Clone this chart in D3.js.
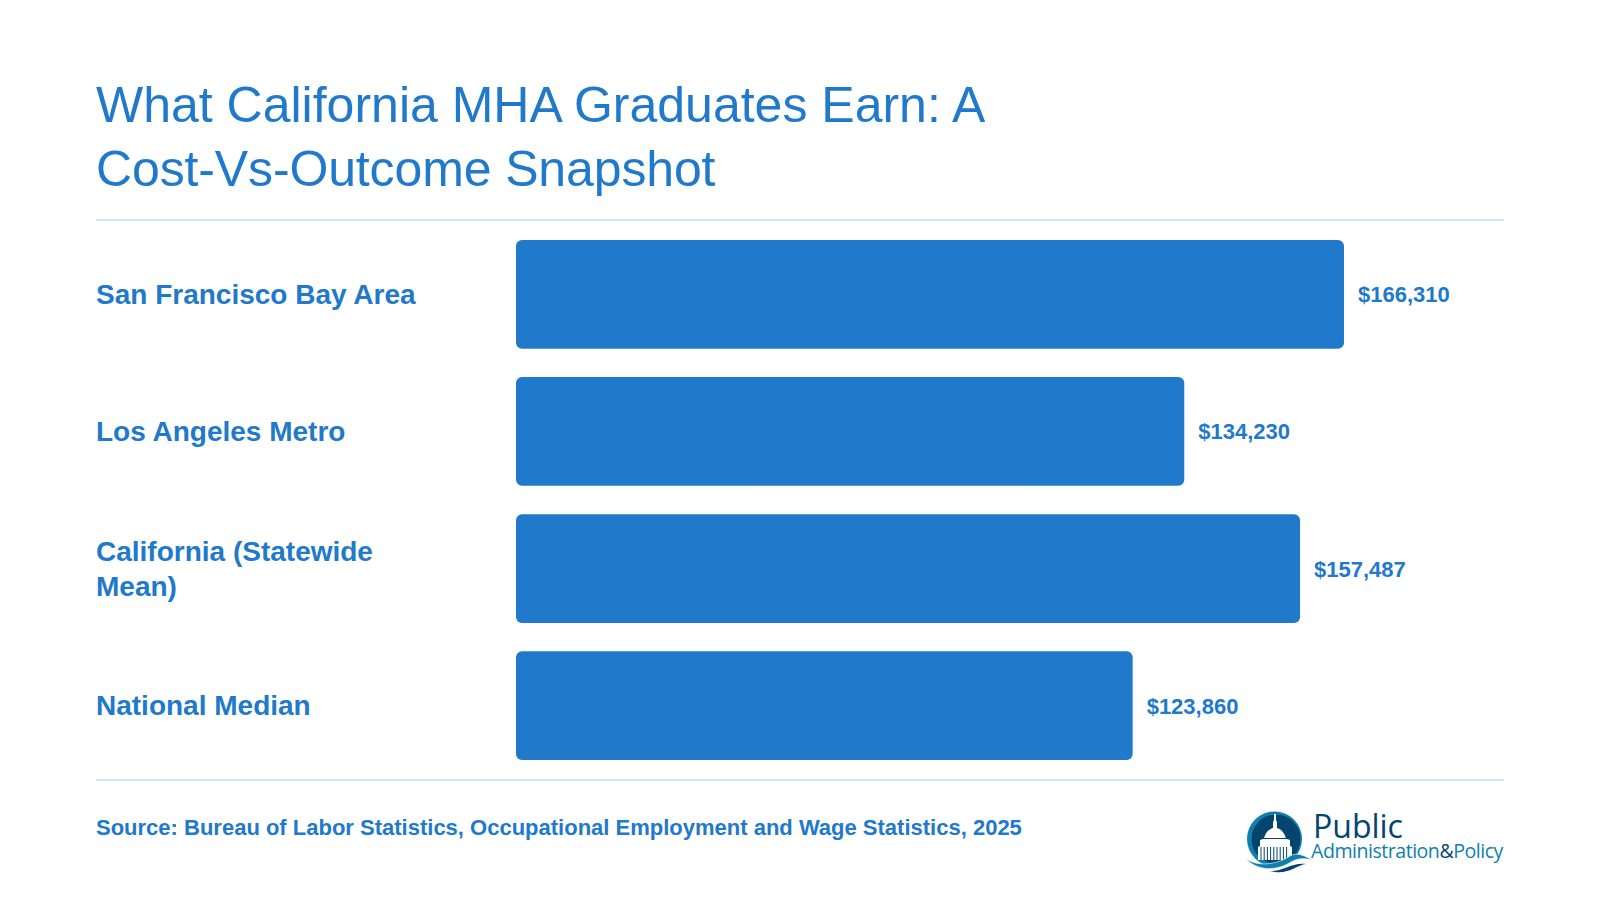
<!DOCTYPE html>
<html><head><meta charset="utf-8">
<style>html,body{margin:0;padding:0;background:#fff;overflow:hidden}svg{display:block}</style>
<script src="https://cdn.jsdelivr.net/npm/d3@7"></script></head><body>
<script>
const categories=["San Francisco Bay Area","Los Angeles Metro","California (Statewide Mean)","National Median"];
const categoryLines=[["San Francisco Bay Area"],["Los Angeles Metro"],["California (Statewide","Mean)"],["National Median"]];
const wages=[166310,134230,157487,123860];
const titleLines=["What California MHA Graduates Earn: A","Cost-Vs-Outcome Snapshot"];
const sourceText="Source: Bureau of Labor Statistics, Occupational Employment and Wage Statistics, 2025";
const blue="#2179cc",rule="#d3e5f5",font="'Liberation Sans',Arial,sans-serif";
const svg=d3.select("body").append("svg").attr("width",1600).attr("height",900);
svg.append("rect").attr("width",1600).attr("height",900).attr("fill","#fff");
svg.selectAll("text.title").data(titleLines).join("text").attr("class","title")
 .attr("x",96).attr("y",(d,i)=>122+i*63.5).attr("fill",blue)
 .attr("font-family",font).attr("font-size",50).attr("letter-spacing",(d,i)=>i?-0.13:0).text(d=>d);
svg.selectAll("line.rule").data([220,780]).join("line").attr("class","rule")
 .attr("x1",96).attr("x2",1504).attr("y1",d=>d).attr("y2",d=>d).attr("stroke",rule).attr("stroke-width",2);
const x=d3.scaleLinear().domain([0,166310]).range([516,1344]);
const y=d3.scaleBand().domain(categories).range([240,760]).paddingInner(0.207).paddingOuter(0);
const rows=svg.selectAll("g.row").data(categories).join("g").attr("class","row");
rows.append("rect").attr("x",x(0)).attr("y",d=>y(d)).attr("height",y.bandwidth())
 .attr("width",(d,i)=>x(wages[i])-x(0)).attr("rx",6).attr("fill",blue);
rows.each(function(d,i){
 const g=d3.select(this),cy=y(d)+y.bandwidth()/2,ls=categoryLines[i];
 g.selectAll("text.cat").data(ls).join("text").attr("class","cat")
  .attr("x",96).attr("y",(l,j)=>cy+9.5+(j-(ls.length-1)/2)*35)
  .attr("fill",blue).attr("font-family",font).attr("font-weight",700).attr("font-size",28).text(l=>l);
 g.append("text").attr("x",x(wages[i])+14).attr("y",cy+8).attr("fill",blue)
  .attr("font-family",font).attr("font-weight",700).attr("font-size",22)
  .text("$"+d3.format(",")(wages[i]));
});
svg.append("text").attr("x",96).attr("y",835).attr("fill",blue).attr("font-family",font)
 .attr("font-weight",700).attr("font-size",22).text(sourceText);
// logo
const logo=svg.append("g").attr("class","logo");
logo.append("circle").attr("cx",1274.5).attr("cy",839).attr("r",27.5).attr("fill","#0f7fae");
logo.append("circle").attr("cx",1276).attr("cy",839).attr("r",24.5).attr("fill","#04456f");
logo.append("path").attr("d","M1258 860V847l2-1V840l3-1h1c1-6 5-10 9-11v-6l1-2V814h2v6l1 2v6c4 1 8 5 9 11h1l3 1v6l2 1v13z").attr("fill","#fff");
logo.append("line").attr("x1",1262).attr("x2",1290).attr("y1",838.5).attr("y2",838.5).attr("stroke","#04456f").attr("stroke-width",1);
logo.selectAll("line.col").data(d3.range(9)).join("line").attr("class","col")
 .attr("x1",d=>1261+d*3.2).attr("x2",d=>1261+d*3.2).attr("y1",847).attr("y2",860).attr("stroke","#04456f").attr("stroke-width",1);
logo.append("path").attr("d","M1245 858C1258 868 1278 864 1290 856C1297 852 1304 855 1312 860C1304 858 1298 858 1291 862C1280 869 1260 874 1245 858Z").attr("fill","#0f7fae").attr("stroke","#fff").attr("stroke-width",0.6);
logo.append("path").attr("d","M1270 871C1282 872 1292 862 1306 864C1296 865 1288 876 1270 871Z").attr("fill","#04456f");
logo.append("text").attr("x",1313).attr("y",838).attr("font-family","'Open Sans',sans-serif").attr("font-size",32).attr("fill","#04456f").text("Public");
const t=logo.append("text").attr("x",1311).attr("y",858).attr("font-family","'Open Sans',sans-serif").attr("font-size",19.6).attr("letter-spacing",-0.5).attr("fill","#0f7fae");
t.append("tspan").text("Administration");
t.append("tspan").attr("fill","#04456f").text("&");
t.append("tspan").text("Policy");
</script></body></html>
